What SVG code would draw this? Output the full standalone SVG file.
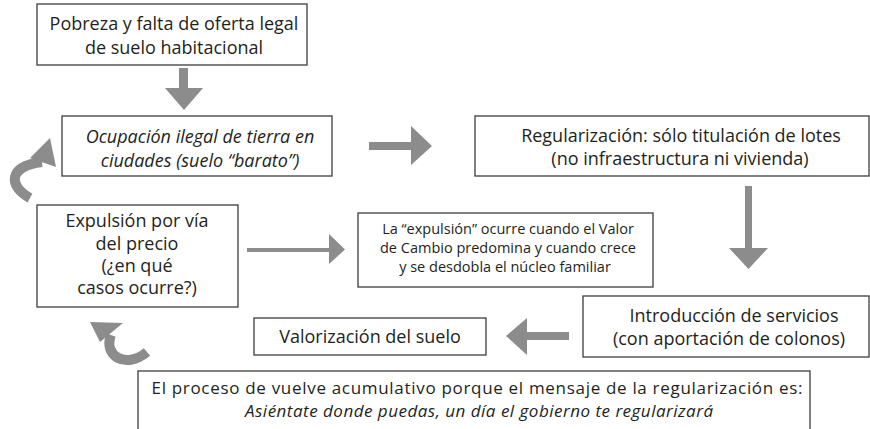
<svg xmlns="http://www.w3.org/2000/svg" width="870" height="429" viewBox="0 0 870 429">
<style>
.box{fill:#fff;stroke:#3c3c3c;stroke-width:1.3}
.t{font-family:"Open Sans","Liberation Sans",sans-serif;font-size:18px;fill:#231f20;text-anchor:middle}
.s{font-size:14.5px}
.b{font-size:17px}
.i{font-style:italic}
.ar{fill:#8c8c8c}
.cv{fill:none;stroke:#8c8c8c;stroke-width:10}
</style>
<rect width="870" height="429" fill="#fff"/>
<g id="n1">
<rect class="box" x="37" y="4" width="270" height="61"/>
<text class="t" x="174" y="30">Pobreza y falta de oferta legal</text>
<text class="t" x="174" y="54">de suelo habitacional</text>
</g>
<g id="n2">
<rect class="box" x="62" y="116" width="270" height="60"/>
<text class="t i" x="200" y="143">Ocupación ilegal de tierra en</text>
<text class="t i" x="200" y="167">ciudades (suelo “barato”)</text>
</g>
<g id="n3">
<rect class="box" x="475" y="116" width="394" height="60"/>
<text class="t" x="681" y="142">Regularización: sólo titulación de lotes</text>
<text class="t" x="680" y="165">(no infraestructura ni vivienda)</text>
</g>
<g id="n4">
<rect class="box" x="37" y="205" width="201" height="102"/>
<text class="t" x="137" y="227">Expulsión por vía</text>
<text class="t" x="137" y="250">del precio</text>
<text class="t" x="137" y="272">(¿en qué</text>
<text class="t" x="137" y="294">casos ocurre?)</text>
</g>
<g id="n5">
<rect class="box" x="358" y="213" width="295" height="74"/>
<text class="t s" x="508" y="234">La “expulsión” ocurre cuando el Valor</text>
<text class="t s" x="508" y="253">de Cambio predomina y cuando crece</text>
<text class="t s" x="505" y="272">y se desdobla el núcleo familiar</text>
</g>
<g id="n6">
<rect class="box" x="254" y="318" width="232" height="37"/>
<text class="t" x="370" y="343">Valorización del suelo</text>
</g>
<g id="n7">
<rect class="box" x="583" y="296" width="286" height="61"/>
<text class="t" x="734" y="322">Introducción de servicios</text>
<text class="t" x="729" y="345">(con aportación de colonos)</text>
</g>
<g id="n8">
<rect class="box" x="138" y="371" width="672" height="70"/>
<text class="t b" x="477" y="394" textLength="651" lengthAdjust="spacing">El proceso de vuelve acumulativo porque el mensaje de la regularización es:</text>
<text class="t b i" x="479" y="417" textLength="468" lengthAdjust="spacing">Asiéntate donde puedas, un día el gobierno te regularizará</text>
</g>
<g id="connectors">
<polygon class="ar" points="179,68 188,68 188,88 203,88 184,110 165,88 179,88"/>
<polygon class="ar" points="369,142 411,142 411,126 432,146 411,165 411,150 369,150"/>
<polygon class="ar" points="745,186 752,186 752,248 768,248 748.5,269 729,248 745,248"/>
<polygon class="ar" points="247,248 329,248 329,234 345,249.5 329,264 329,252 247,252"/>
<polygon class="ar" points="569,332 527,332 527,318 506,336 527,355 527,340 569,340"/>
<path class="cv" d="M30 198 C8 186 8 166 42 162"/>
<polygon class="ar" points="50,138 56,167 30,158"/>
<path class="cv" d="M111 335 C103 355 125 370 147 352"/>
<polygon class="ar" points="90,322 123,323 100,342"/>
</g>
</svg>
